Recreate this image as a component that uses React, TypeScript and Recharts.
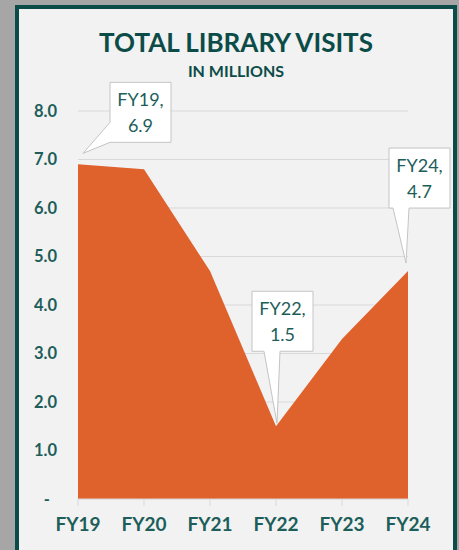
import { AreaChart, Area, XAxis, YAxis, CartesianGrid } from "recharts"

const years = ["FY19", "FY20", "FY21", "FY22", "FY23", "FY24"]
const visits = [6.9, 6.8, 4.7, 1.5, 3.3, 4.7]
const yTicks = [0, 1, 2, 3, 4, 5, 6, 7, 8]

// which points get a callout and where the box sits relative to the point
const calloutIndex = [0, 3, 5]
const calloutBox = [
  { dx: 32, dy: -82, side: "left", tipX: 5, tipY: -11 },
  { dx: -24, dy: -135, side: "bottom", tipX: 1, tipY: -3 },
  { dx: -19, dy: -123, side: "bottom", tipX: -2, tipY: -8 },
]

const data = years.map((y, i) => ({ year: y, visits: visits[i] }))

const TEAL = "#1d5e5a"
const DARK = "#0c4c48"
const ORANGE = "#df612b"
const FONT = "Lato, 'Noto Sans', sans-serif"

const YTick = (props: any) => {
  const { x, y, payload } = props
  const v = payload.value
  return (
    <text x={v === 0 ? x - 7 : x} y={y} dy="0.36em" textAnchor="end" fill={TEAL} fontFamily={FONT} fontWeight={700} fontSize={16.5}>
      {v === 0 ? "-" : v.toFixed(1)}
    </text>
  )
}

const Callout = (props: any) => {
  const { x, y, index } = props
  const k = calloutIndex.indexOf(index)
  if (k < 0) return null
  const c = calloutBox[k]
  const w = 61
  const h = 60
  const l = x + c.dx
  const t = y + c.dy
  const r = l + w
  const b = t + h
  const tx = x + c.tipX
  const ty = y + c.tipY
  let d = ""
  if (c.side === "left") {
    d = `M${l},${t} L${r},${t} L${r},${b} L${l},${b} L${tx},${ty} L${l},${b - 20} Z`
  } else {
    const b1 = tx - 13
    const b2 = tx + 3
    d = `M${l},${t} L${r},${t} L${r},${b} L${b2},${b} L${tx},${ty} L${b1},${b} L${l},${b} Z`
  }
  return (
    <g>
      <path d={d} fill="#ffffff" stroke="#c4c4c4" strokeWidth={1} />
      <text x={l + w / 2} y={t + 24} textAnchor="middle" fill={TEAL} fontFamily={FONT} fontSize={18}>
        {years[index]},
      </text>
      <text x={l + w / 2} y={t + 50} textAnchor="middle" fill={TEAL} fontFamily={FONT} fontSize={18}>
        {visits[index].toFixed(1)}
      </text>
    </g>
  )
}

export default function App() {
  return (
    <div style={{ position: "absolute", left: 0, top: 0, width: 459, height: 550, background: "#a6a6a6", overflow: "hidden" }}>
      <div
        style={{
          position: "absolute",
          left: 15,
          top: 5,
          width: 434,
          height: 600,
          border: `4px solid ${DARK}`,
          background: "#f2f2f2",
        }}
      />
      <div
        style={{
          position: "absolute",
          left: 15,
          width: 442,
          top: 26,
          textAlign: "center",
          fontFamily: FONT,
          fontWeight: 700,
          fontSize: 26,
          color: DARK,
          lineHeight: "32px",
        }}
      >
        TOTAL LIBRARY VISITS
      </div>
      <div
        style={{
          position: "absolute",
          left: 15,
          width: 442,
          top: 61,
          textAlign: "center",
          fontFamily: FONT,
          fontWeight: 700,
          fontSize: 16,
          color: DARK,
          lineHeight: "20px",
        }}
      >
        IN MILLIONS
      </div>
      <div style={{ position: "absolute", left: 0, top: 0 }}>
        <AreaChart width={459} height={550} data={data} margin={{ top: 111, right: 51, bottom: 11, left: 30 }}>
          <CartesianGrid vertical={false} stroke="#d9d9d9" />
          <XAxis
            dataKey="year"
            height={40}
            tickSize={7}
            tickMargin={12}
            stroke="#d9d9d9"
            tick={{ fill: TEAL, fontFamily: FONT, fontWeight: 700, fontSize: 19 }}
          />
          <YAxis
            width={48}
            domain={[0, 8]}
            ticks={yTicks}
            axisLine={false}
            tickLine={false}
            tickSize={0}
            tickMargin={21}
            tick={<YTick />}
          />
          <Area
            type="linear"
            dataKey="visits"
            fill={ORANGE}
            fillOpacity={1}
            stroke="none"
            isAnimationActive={false}
            label={<Callout />}
          />
        </AreaChart>
      </div>
    </div>
  )
}
